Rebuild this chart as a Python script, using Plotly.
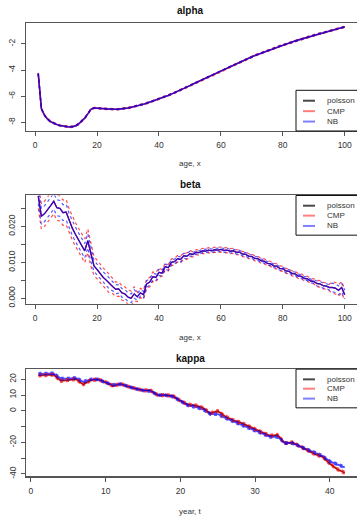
import plotly.graph_objects as go

# ---------------- data ----------------
ages = list(range(1, 101))
years = list(range(1, 43))

alpha_est = [
    -4.27, -6.95, -7.45, -7.75, -7.95, -8.08, -8.17, -8.24, -8.29, -8.33,
    -8.35, -8.33, -8.27, -8.13, -7.93, -7.68, -7.35, -7.00, -6.90, -6.90,
    -6.92, -6.95, -6.97, -6.99, -7.00, -7.00, -6.99, -6.97, -6.94, -6.90,
    -6.85, -6.80, -6.74, -6.68, -6.61, -6.54, -6.46, -6.38, -6.30, -6.22,
    -6.13, -6.04, -5.94, -5.84, -5.74, -5.63, -5.52, -5.41, -5.30, -5.19,
    -5.07, -4.96, -4.84, -4.73, -4.61, -4.50, -4.38, -4.27, -4.15, -4.04,
    -3.93, -3.82, -3.71, -3.60, -3.50, -3.39, -3.29, -3.19, -3.09, -2.99,
    -2.89, -2.80, -2.70, -2.61, -2.52, -2.43, -2.34, -2.26, -2.17, -2.09,
    -2.01, -1.93, -1.85, -1.77, -1.70, -1.62, -1.55, -1.48, -1.41, -1.34,
    -1.27, -1.20, -1.14, -1.07, -1.01, -0.95, -0.89, -0.83, -0.77, -0.70,
]
alpha_halfwidth = 0.05

beta_est = [
    0.0285, 0.0228, 0.0235, 0.0248, 0.0258, 0.0270, 0.0252, 0.0250, 0.0238, 0.0240,
    0.0215, 0.0195, 0.0178, 0.0162, 0.0148, 0.0132, 0.0160, 0.0122, 0.0090, 0.0080,
    0.0068, 0.0058, 0.0050, 0.0040, 0.0033, 0.0025, 0.0026, 0.0015, 0.0012, 0.0003,
    0.0000, 0.0012, 0.0004, 0.0015, 0.0010, 0.0040, 0.0045, 0.0060, 0.0058, 0.0072,
    0.0070, 0.0088, 0.0085, 0.0100, 0.0102, 0.0110, 0.0108, 0.0118, 0.0117, 0.0124,
    0.0122, 0.0128, 0.0127, 0.0132, 0.0131, 0.0134, 0.0132, 0.0135, 0.0134, 0.0136,
    0.0133, 0.0134, 0.0131, 0.0132, 0.0128, 0.0128, 0.0123, 0.0122, 0.0117, 0.0116,
    0.0111, 0.0110, 0.0104, 0.0103, 0.0097, 0.0096, 0.0090, 0.0089, 0.0083, 0.0082,
    0.0076, 0.0075, 0.0069, 0.0068, 0.0062, 0.0061, 0.0055, 0.0054, 0.0048, 0.0047,
    0.0041, 0.0040, 0.0035, 0.0034, 0.0030, 0.0030, 0.0028, 0.0022, 0.0030, 0.0010,
]
beta_hw_cmp = ([0.0035] * 10 + [0.0033] * 8 + [0.0026] * 6 + [0.0020] * 8 +
               [0.0013] * 8 + [0.0009] * 10 + [0.0007] * 40 + [0.0009] * 5 + [0.0016] * 5)
beta_hw_nb = ([0.0022] * 10 + [0.0020] * 8 + [0.0015] * 6 + [0.0012] * 8 +
              [0.0009] * 8 + [0.0007] * 10 + [0.0005] * 40 + [0.0007] * 5 + [0.0012] * 5)

kappa_poisson = [
    22.5, 22.8, 23.0, 19.0, 19.4, 20.2, 16.8, 19.5, 20.0, 18.2,
    15.8, 17.2, 15.5, 14.2, 13.0, 13.0, 10.0, 10.0, 9.5, 6.5,
    4.0, 3.5, 2.0, -1.5, 0.0, -3.5, -5.8, -7.3, -9.5, -11.5,
    -13.5, -15.8, -15.2, -20.5, -20.0, -22.5, -25.0, -27.5, -29.0, -33.5,
    -37.0, -39.2,
]
kappa_cmp = list(kappa_poisson)
kappa_nb = [
    23.5, 23.8, 23.8, 20.5, 20.5, 21.0, 18.5, 20.0, 20.0, 18.0,
    16.5, 17.0, 15.5, 14.0, 13.0, 12.5, 10.0, 10.0, 9.0, 6.0,
    3.5, 2.5, 1.0, -2.0, -2.0, -4.5, -6.5, -8.0, -10.0, -12.0,
    -14.0, -16.5, -16.5, -20.5, -20.5, -22.5, -25.0, -27.0, -28.5, -32.0,
    -34.0, -35.8,
]
kappa_hw_cmp = 0.9
kappa_hw_nb = 0.8

models = ["poisson", "CMP", "NB"]

# ---------------- styling ----------------
W, H = 357, 520
FONT = "Liberation Sans, Arial, sans-serif"
C_POIS = "rgba(30,30,30,1)"
C_CMP = "rgba(255,0,0,0.6)"
C_NB = "rgba(0,0,255,0.7)"
C_CMP_CI = "rgba(255,0,0,0.7)"
C_NB_CI = "rgba(0,0,255,0.65)"
C_POIS_LEG = "rgba(40,40,40,0.85)"
C_CMP_LEG = "rgba(255,0,0,0.5)"
C_NB_LEG = "rgba(0,0,255,0.5)"
AXC = "#555555"
TXT = "#333333"


def px_x(p):
    return p / W


def px_y(p):
    return 1 - p / H


fig = go.Figure()


def add_panel(idx, x, series, cis, widths, ci_w=1.3):
    xa = "x" if idx == 1 else f"x{idx}"
    ya = "y" if idx == 1 else f"y{idx}"
    colors = [C_POIS, C_CMP, C_NB]
    for name, vals, c, w in zip(models, series, colors, widths):
        fig.add_trace(go.Scatter(x=x, y=vals, mode="lines", name=name,
                                 line=dict(color=c, width=w),
                                 xaxis=xa, yaxis=ya, showlegend=False))
    for vals, hw, c in cis:
        if isinstance(hw, list):
            up = [v + h for v, h in zip(vals, hw)]
            lo = [v - h for v, h in zip(vals, hw)]
        else:
            up = [v + hw for v in vals]
            lo = [v - hw for v in vals]
        for arr in (up, lo):
            fig.add_trace(go.Scatter(x=x, y=arr, mode="lines",
                                     line=dict(color=c, width=ci_w, dash="3px,3px"),
                                     xaxis=xa, yaxis=ya, showlegend=False))


add_panel(1, ages, [alpha_est, alpha_est, alpha_est],
          [(alpha_est, alpha_halfwidth, C_CMP_CI), (alpha_est, alpha_halfwidth * 0.6, C_NB_CI)],
          widths=[1.0, 1.6, 1.6])
add_panel(2, ages, [beta_est, beta_est, beta_est],
          [(beta_est, beta_hw_cmp, C_CMP_CI), (beta_est, beta_hw_nb, C_NB_CI)],
          widths=[1.0, 1.4, 1.4], ci_w=1.2)
add_panel(3, years, [kappa_poisson, kappa_cmp, kappa_nb],
          [(kappa_cmp, kappa_hw_cmp, C_CMP_CI), (kappa_nb, kappa_hw_nb, C_NB_CI)],
          widths=[1.2, 2.2, 1.8], ci_w=1.3)

panels = {
    1: dict(left=26, top=23, bottom=132),
    2: dict(left=26, top=197, bottom=306),
    3: dict(left=26.2, top=372, bottom=480),
}

xranges = {1: [-2.96, 103.96], 2: [-2.96, 103.96], 3: [-0.64, 43.64]}
xticks = {1: [0, 20, 40, 60, 80, 100], 2: [0, 20, 40, 60, 80, 100], 3: [0, 10, 20, 30, 40]}
yranges = {1: [-8.66, -0.39], 2: [-0.0015, 0.0286], 3: [-41.5, 26.5]}
yticks = {
    1: ([-8, -6, -4, -2], ["-8", "-6", "-4", "-2"]),
    2: ([0.0, 0.005, 0.010, 0.015, 0.020, 0.025], ["0.000", "", "0.010", "", "0.020", ""]),
    3: ([-40, -30, -20, -10, 0, 10, 20], ["-40", "", "-20", "", "0", "10", "20"]),
}

layout = dict(
    width=W, height=H,
    margin=dict(l=0, r=0, t=0, b=0),
    paper_bgcolor="white", plot_bgcolor="white",
    font=dict(family=FONT, size=8, color=TXT),
    showlegend=False,
)

for i in (1, 2, 3):
    p = panels[i]
    xk = "xaxis" if i == 1 else f"xaxis{i}"
    yk = "yaxis" if i == 1 else f"yaxis{i}"
    ya = "y" if i == 1 else f"y{i}"
    xa = "x" if i == 1 else f"x{i}"
    layout[xk] = dict(
        domain=[px_x(p["left"]), 1.0], range=xranges[i], anchor=ya,
        tickvals=xticks[i], ticktext=[str(v) for v in xticks[i]],
        showline=True, mirror=True, linecolor=AXC, linewidth=1.3,
        ticks="outside", ticklen=4, tickcolor=AXC, tickwidth=1,
        showgrid=False, zeroline=False, ticklabelstandoff=2,
        tickfont=dict(family=FONT, size=8.5, color=TXT),
    )
    layout[yk] = dict(
        domain=[px_y(p["bottom"]), px_y(p["top"])], range=yranges[i], anchor=xa,
        tickvals=yticks[i][0], ticktext=yticks[i][1], tickangle=-90,
        showline=True, mirror=False, linecolor=AXC, linewidth=1.3,
        ticks="outside", ticklen=4, tickcolor=AXC, tickwidth=1,
        showgrid=False, zeroline=False, ticklabelstandoff=2,
        tickfont=dict(family=FONT, size=8.5, color=TXT),
    )

fig.update_layout(**layout)

annotations = []
titles = [("alpha", 11, "age, x", 165), ("beta", 186, "age, x", 340), ("kappa", 361, "year, t", 515)]
for t, ty, xl, xy in titles:
    annotations.append(dict(text=f"<b>{t}</b>", x=px_x(190), y=px_y(ty), xref="paper", yref="paper",
                            xanchor="center", yanchor="middle", showarrow=False,
                            font=dict(family=FONT, size=10, color="#111111")))
    annotations.append(dict(text=xl, x=px_x(190), y=px_y(xy), xref="paper", yref="paper",
                            xanchor="center", yanchor="middle", showarrow=False,
                            font=dict(family=FONT, size=8, color=TXT)))

shapes = []
legend_boxes = [
    (91, 132, [101.5, 112, 122.5]),
    (197, 237, [207.3, 217.3, 227.7]),
    (372, 411, [382.3, 391.7, 401.7]),
]
leg_colors = [C_POIS_LEG, C_CMP_LEG, C_NB_LEG]
for top, bot, rows in legend_boxes:
    shapes.append(dict(type="rect", xref="paper", yref="paper",
                       x0=px_x(296), x1=px_x(370), y0=px_y(bot), y1=px_y(top),
                       line=dict(color="#111111", width=1), fillcolor="white", layer="above"))
    for name, c, ry in zip(models, leg_colors, rows):
        shapes.append(dict(type="line", xref="paper", yref="paper",
                           x0=px_x(303), x1=px_x(315), y0=px_y(ry), y1=px_y(ry),
                           line=dict(color=c, width=2), layer="above"))
        annotations.append(dict(text=name, x=px_x(325), y=px_y(ry), xref="paper", yref="paper",
                                xanchor="left", yanchor="middle", showarrow=False,
                                font=dict(family=FONT, size=8, color=TXT)))

fig.update_layout(annotations=annotations, shapes=shapes)
fig.write_html(
    "out.html",
    config={"displayModeBar": False, "staticPlot": True},
    post_script="document.body.style.margin='0';document.body.style.padding='0';"
                "document.body.style.overflow='hidden';"
                "document.documentElement.style.overflow='hidden';",
)
